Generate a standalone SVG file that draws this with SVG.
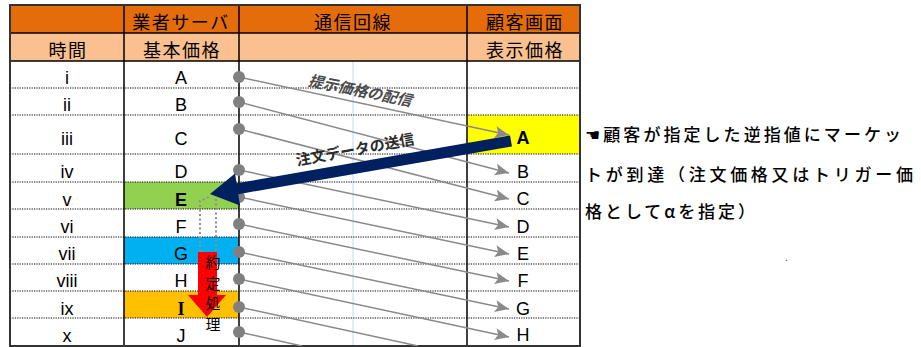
<svg xmlns="http://www.w3.org/2000/svg" width="921" height="347" viewBox="0 0 921 347">
<style>
.jp{font-family:"Liberation Sans","Noto Sans CJK JP",sans-serif;fill:#000}
.hd{font-size:18px;letter-spacing:1.5px;text-anchor:middle}
.cell{font-family:"Liberation Sans","Noto Sans CJK JP",sans-serif;font-size:18px;text-anchor:middle;fill:#000}
.num{font-family:"Liberation Sans",sans-serif;font-size:18px;text-anchor:middle;fill:#000}
.dot{stroke:#000;stroke-width:1.2;stroke-dasharray:1.2 1.2;fill:none}
.grid{stroke:#000;stroke-width:1.5;fill:none}
.conn{stroke:#8a8a8a;stroke-width:1.5;fill:none}
.pt{fill:#808080}
.note{font-family:"Noto Sans CJK JP",sans-serif;font-size:17px;font-weight:500;fill:#000}
</style>
<defs>
<marker id="ga" markerUnits="userSpaceOnUse" markerWidth="16" markerHeight="14" refX="14" refY="6" orient="auto">
<path d="M0,0 L14,6 L0,12 L3,6 Z" fill="#8a8a8a"/>
</marker>
<clipPath id="tbl"><rect x="239" y="61" width="341" height="285"/></clipPath>
</defs>
<rect width="921" height="347" fill="#fff"/>
<g id="table">
<rect x="10" y="5" width="570" height="28" fill="#E46C0A"/>
<rect x="10" y="33" width="570" height="28" fill="#FAC090"/>
<rect x="124" y="182" width="115" height="27" fill="#92D050"/>
<rect x="124" y="237" width="115" height="27" fill="#00B0F0"/>
<rect x="124" y="291" width="115" height="27" fill="#FFC000"/>
<rect x="467" y="115" width="113" height="39" fill="#FFFF00"/>
<line x1="353" y1="61" x2="353" y2="346" stroke="#C5D9F1" stroke-width="1"/>
<g class="dot">
<line x1="10" y1="88" x2="580" y2="88"/>
<line x1="10" y1="115" x2="580" y2="115"/>
<line x1="10" y1="154" x2="580" y2="154"/>
<line x1="10" y1="182" x2="580" y2="182"/>
<line x1="10" y1="209" x2="580" y2="209"/>
<line x1="10" y1="237" x2="580" y2="237"/>
<line x1="10" y1="264" x2="580" y2="264"/>
<line x1="10" y1="291" x2="580" y2="291"/>
<line x1="10" y1="318" x2="580" y2="318"/>
</g>
<g class="grid">
<line x1="10" y1="33" x2="580" y2="33"/>
<line x1="10" y1="61" x2="580" y2="61"/>
<line x1="124" y1="5" x2="124" y2="346"/>
<line x1="239" y1="5" x2="239" y2="346"/>
<line x1="467" y1="5" x2="467" y2="346"/>
<rect x="10" y="5" width="570" height="341" stroke="#333" stroke-width="2"/>
</g>
<g class="jp hd">
<text x="181" y="29">業者サーバ</text>
<text x="353" y="29">通信回線</text>
<text x="525" y="29">顧客画面</text>
<text x="68" y="57">時間</text>
<text x="182" y="57">基本価格</text>
<text x="525" y="57">表示価格</text>
</g>
<g class="num">
<text x="67" y="84">i</text>
<text x="67" y="111">ii</text>
<text x="67" y="145">iii</text>
<text x="67" y="178">iv</text>
<text x="67" y="206">v</text>
<text x="67" y="233">vi</text>
<text x="67" y="260">vii</text>
<text x="67" y="287">viii</text>
<text x="67" y="315">ix</text>
<text x="67" y="342">x</text>
</g>
<g class="cell">
<text x="181" y="84">A</text>
<text x="181" y="111">B</text>
<text x="181" y="145">C</text>
<text x="181" y="178">D</text>
<text x="181" y="206" font-weight="bold">E</text>
<text x="181" y="233">F</text>
<text x="181" y="260">G</text>
<text x="181" y="287">H</text>
<text x="181" y="315" font-family="Liberation Serif" font-weight="bold">I</text>
<text x="181" y="342">J</text>
<text x="523" y="144" font-weight="bold">A</text>
<text x="523" y="178">B</text>
<text x="523" y="205">C</text>
<text x="523" y="233">D</text>
<text x="523" y="260">E</text>
<text x="523" y="287">F</text>
<text x="523" y="315">G</text>
<text x="523" y="341">H</text>
</g>
</g>
<g id="connectors">
<g class="conn" clip-path="url(#tbl)">
<line x1="239" y1="77" x2="509" y2="135" marker-end="url(#ga)"/>
<line x1="239" y1="102" x2="509" y2="173" marker-end="url(#ga)"/>
<line x1="239" y1="129" x2="509" y2="199" marker-end="url(#ga)"/>
<line x1="239" y1="170" x2="509" y2="227" marker-end="url(#ga)"/>
<line x1="239" y1="197" x2="509" y2="254" marker-end="url(#ga)"/>
<line x1="239" y1="224" x2="509" y2="281" marker-end="url(#ga)"/>
<line x1="239" y1="252" x2="509" y2="309" marker-end="url(#ga)"/>
<line x1="239" y1="279" x2="509" y2="337" marker-end="url(#ga)"/>
<line x1="239" y1="307" x2="418" y2="346"/>
<line x1="239" y1="332" x2="302" y2="346"/>
</g>
<g class="pt">
<circle cx="239" cy="77" r="6"/>
<circle cx="239" cy="102" r="6"/>
<circle cx="239" cy="129" r="6"/>
<circle cx="239" cy="170" r="6"/>
<circle cx="239" cy="197" r="6"/>
<circle cx="239" cy="224" r="6"/>
<circle cx="239" cy="252" r="6"/>
<circle cx="239" cy="279" r="6"/>
<circle cx="239" cy="307" r="6"/>
<circle cx="239" cy="332" r="6"/>
</g>
<text x="360" y="96" transform="rotate(11.5 360 91)" text-anchor="middle" font-family="Noto Sans CJK JP,sans-serif" font-size="15" font-weight="bold" font-style="italic" fill="#4a4a4a">提示価格の配信</text>
<g id="order-arrow">
<line x1="511" y1="141" x2="236" y2="189" stroke="#002060" stroke-width="11"/>
<polygon points="210,194 240,205.5 235,173.5" fill="#002060"/>
</g>
<text x="355" y="155" transform="rotate(-10.5 355 150)" text-anchor="middle" font-family="Noto Sans CJK JP,sans-serif" font-size="15" font-weight="bold" fill="#2a2a2a">注文データの送信</text>
<g id="settle">
<path d="M200,252 L200,201 L209,197 M216,199 L216,252" stroke="#909090" stroke-width="2" stroke-dasharray="2 2.5" fill="none"/>
<polygon points="198,252 217,252 217,295 226,295 207,317 188,295 198,295" fill="#FF0000"/>
<g font-family="Noto Sans CJK JP,sans-serif" font-size="15" text-anchor="middle" fill="#000">
<text x="213" y="268">約</text>
<text x="213" y="289">定</text>
<text x="213" y="309">処</text>
<text x="213" y="330">理</text>
</g>
</g>
</g>
<g id="note">
<text class="note" x="585" y="141" textLength="316" lengthAdjust="spacing"><tspan font-family="DejaVu Sans,sans-serif">☚</tspan>顧客が指定した逆指値にマーケッ</text>
<text class="note" x="585" y="181" textLength="328" lengthAdjust="spacing">トが到達（注文価格又はトリガー価</text>
<text class="note" x="585" y="218" textLength="170" lengthAdjust="spacing">格としてαを指定）</text>
<text x="785" y="261" font-family="Liberation Sans,sans-serif" font-size="10" fill="#333">.</text>
</g>
</svg>
